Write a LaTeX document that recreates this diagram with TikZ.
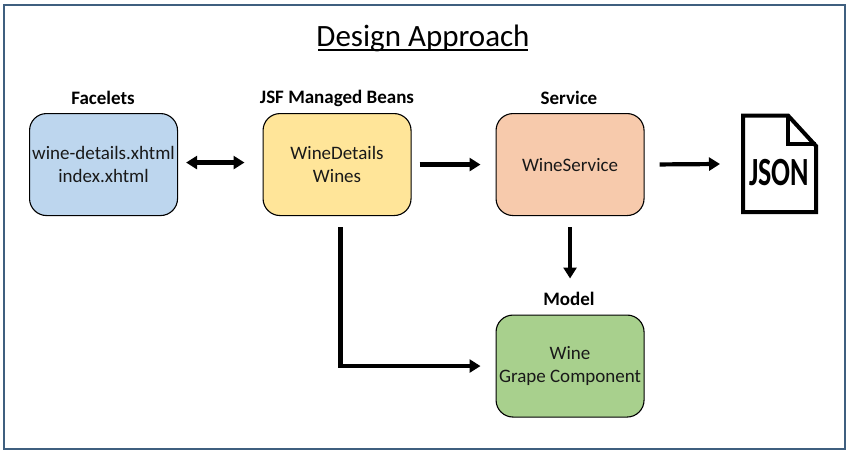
\documentclass[tikz,border=0pt]{standalone}
\usepackage{fontspec}
\setmainfont{Carlito}
\usetikzlibrary{arrows.meta}
\definecolor{framec}{HTML}{3F5F7F}
\definecolor{bluef}{HTML}{BDD6EE}
\definecolor{yellowf}{HTML}{FFE599}
\definecolor{orangef}{HTML}{F7CAAC}
\definecolor{greenf}{HTML}{A8D08D}
\tikzset{
  box/.style={draw=black,line width=1.1pt,rounded corners=17pt,minimum width=148pt,minimum height=102pt,anchor=north west,align=center,inner sep=0pt,font=\fontsize{19}{23.5}\selectfont,text=black!90},
  head/.style={font=\fontsize{19}{22}\selectfont\bfseries,inner sep=0pt},
  conn/.style={line width=4.2pt,-{Triangle[length=11pt,width=13pt]}},
  conn2/.style={line width=4.2pt,{Triangle[length=11pt,width=13pt]}-{Triangle[length=11pt,width=13pt]}}
}
\begin{document}
\begin{tikzpicture}[x=1pt,y=-1pt]
\useasboundingbox (0,0) rectangle (850,455);
\fill[white] (0,0) rectangle (850,455);
\draw[framec,line width=1.2pt] (4,5) rectangle (845,449);
\node[inner sep=0pt,font=\fontsize{31}{36}\selectfont] (title) at (423,38) {Design Approach};
\draw[black,line width=1.5pt] (318,50) -- (528,50);

\node[box,fill=bluef] (fac) at (29,113) {wine-details.xhtml\\index.xhtml};
\node[box,fill=yellowf] (jsf) at (262.5,113) {WineDetails\\Wines};
\node[box,fill=orangef] (srv) at (495.5,113) {WineService};
\node[box,fill=greenf] (mod) at (495.5,314.5) {Wine\\Grape Component};

\node[head] (hfac) at (103,98) {Facelets};
\node[head] (hjsf) at (337,98) {JSF Managed Beans};
\node[head] (hsrv) at (569,98) {Service};
\node[head] (hmod) at (569,299) {Model};

% JSON file icon
\draw[black,line width=4pt,line join=miter,fill=white] (743,115.5) -- (788,115.5) -- (816,146) -- (816,212) -- (743,212) -- cycle;
\draw[black,line width=4pt,line join=miter] (788,115.5) -- (788,143.5) -- (816,143.5);
\node[inner sep=0pt,font=\fontsize{40}{40}\selectfont\bfseries,xscale=.7] (json) at (779,173) {JSON};

\coordinate (jsonin) at (720,164);
\coordinate (jsfs) at (340.5,215);
\draw[conn2,shorten <=8pt,shorten >=18pt] ([yshift=2pt]fac.east) -- ([yshift=2pt]jsf.west);
\draw[conn,shorten <=8pt,shorten >=15pt] (jsf.east) -- (srv.west);
\draw[conn,shorten <=15pt] (srv.east) -- (jsonin);
\draw[conn,shorten <=11pt,shorten >=36pt] (srv.south) -- (mod.north);
\draw[conn,shorten <=12pt,shorten >=15pt,line join=miter] (jsfs) |- (mod.west);
\end{tikzpicture}
\end{document}
